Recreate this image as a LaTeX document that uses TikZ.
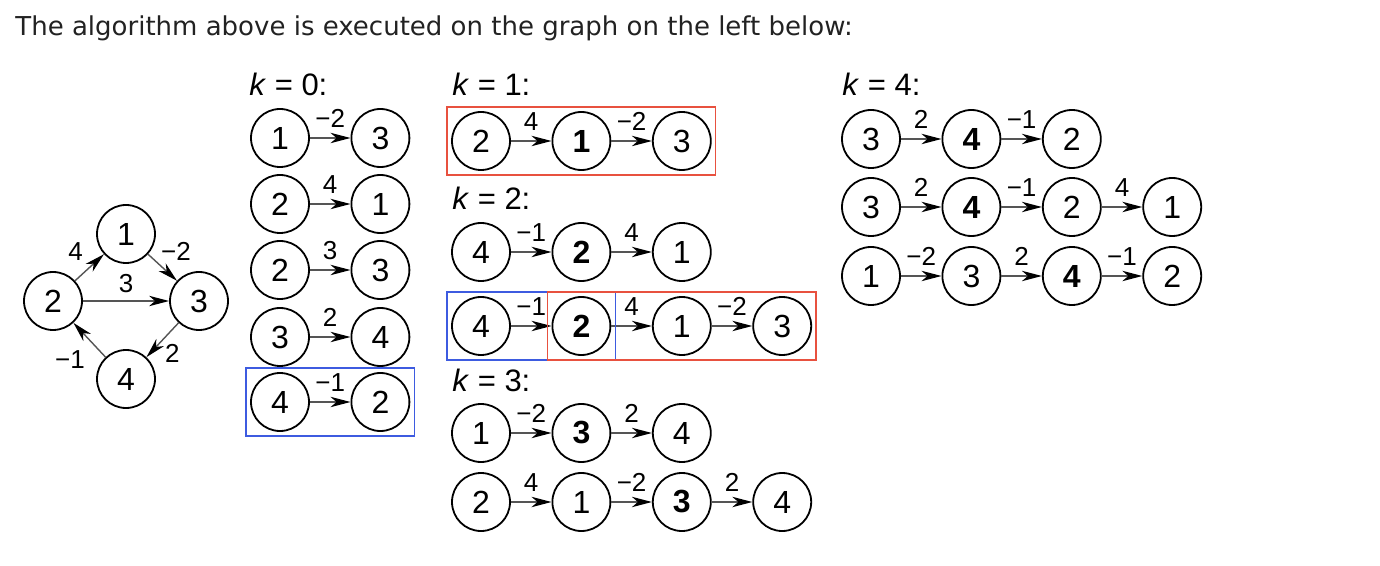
\documentclass[tikz,border=0pt]{standalone}
\usepackage{fontspec}
\setmainfont{Liberation Sans}
\newfontfamily\headfont{DejaVu Sans}
\usepackage{tikz}
\usetikzlibrary{arrows.meta,positioning,fit}
\definecolor{boxred}{HTML}{E8513F}
\definecolor{boxblue}{HTML}{3D5BE0}
\definecolor{edgegray}{HTML}{555555}
\definecolor{headgray}{HTML}{222222}

\begin{document}
\begin{tikzpicture}[x=0.5pt, y=-0.5pt,
    >={Stealth[length=10pt, width=5.2pt, inset=3pt, color=black]},
    vert/.style={draw, circle, line width=0.9pt, minimum size=29pt, inner sep=0pt,
        font=\fontsize{16pt}{18pt}\selectfont},
    piv/.style={vert, font=\fontsize{16pt}{18pt}\selectfont\bfseries},
    wt/.style={->, draw=edgegray, line width=0.7pt},
    elab/.style={text=black, inner sep=0pt, font=\fontsize{13pt}{15pt}\selectfont},
    wlab/.style={elab, above=5pt},
    klab/.style={anchor=base west, inner sep=0pt, font=\fontsize{15.5pt}{18pt}\selectfont},
    redbox/.style={draw=boxred, line width=0.75pt, inner sep=2pt},
    bluebox/.style={draw=boxblue, line width=0.75pt, inner sep=2pt},
    node distance=20.3pt]
    \useasboundingbox (0,0) rectangle (1380,566);

    % Caption
    \node[anchor=base west, inner sep=0pt, text=headgray, font=\headfont\fontsize{13pt}{15pt}\selectfont]
        (title) at (15,36) {The algorithm above is executed on the graph on the left below:};

    % Input graph
    \node[vert] (v1) at (126,234) {1};
    \node[vert] (v2) at (53,301) {2};
    \node[vert] (v3) at (199,301) {3};
    \node[vert] (v4) at (126,379) {4};
    \draw[wt] (v2) -- node[elab, above left=3pt and 3pt] {4} (v1);
    \draw[wt] (v1) -- node[elab, above right=3pt and -1pt] {−2} (v3);
    \draw[wt] (v2) -- node[elab, above=4pt] {3} (v3);
    \draw[wt] (v3) -- node[elab, below right=2pt and 1pt] {2} (v4);
    \draw[wt] (v4) -- node[elab, below left=5pt and 2pt] {−1} (v2);

    % k = 0
    \node[klab] (k0) at (249,96) {\textit{k} = 0:};
    \node[vert] (k0r1a) at (280,138) {1};
    \node[vert, right=of k0r1a] (k0r1b) {3};
    \draw[wt] (k0r1a) -- node[wlab] {−2} (k0r1b);
    \node[vert] (k0r2a) at (280,204) {2};
    \node[vert, right=of k0r2a] (k0r2b) {1};
    \draw[wt] (k0r2a) -- node[wlab] {4} (k0r2b);
    \node[vert] (k0r3a) at (280,270) {2};
    \node[vert, right=of k0r3a] (k0r3b) {3};
    \draw[wt] (k0r3a) -- node[wlab] {3} (k0r3b);
    \node[vert] (k0r4a) at (280,337) {3};
    \node[vert, right=of k0r4a] (k0r4b) {4};
    \draw[wt] (k0r4a) -- node[wlab] {2} (k0r4b);
    \node[vert] (k0r5a) at (280,402) {4};
    \node[vert, right=of k0r5a] (k0r5b) {2};
    \draw[wt] (k0r5a) -- node[wlab] {−1} (k0r5b);
    \node[bluebox, fit=(k0r5a)(k0r5b)] (k0blue) {};

    % k = 1
    \node[klab] (k1) at (452,96) {\textit{k} = 1:};
    \node[vert] (k1r1a) at (481,141) {2};
    \node[piv, right=of k1r1a] (k1r1b) {1};
    \node[vert, right=of k1r1b] (k1r1c) {3};
    \draw[wt] (k1r1a) -- node[wlab] {4} (k1r1b);
    \draw[wt] (k1r1b) -- node[wlab] {−2} (k1r1c);
    \node[redbox, fit=(k1r1a)(k1r1c)] (k1red) {};

    % k = 2
    \node[klab] (k2) at (452,210) {\textit{k} = 2:};
    \node[vert] (k2r1a) at (481,252) {4};
    \node[piv, right=of k2r1a] (k2r1b) {2};
    \node[vert, right=of k2r1b] (k2r1c) {1};
    \draw[wt] (k2r1a) -- node[wlab] {−1} (k2r1b);
    \draw[wt] (k2r1b) -- node[wlab] {4} (k2r1c);
    \node[vert] (k2r2a) at (481,326) {4};
    \node[piv, right=of k2r2a] (k2r2b) {2};
    \node[vert, right=of k2r2b] (k2r2c) {1};
    \node[vert, right=of k2r2c] (k2r2d) {3};
    \draw[wt] (k2r2a) -- node[wlab] {−1} (k2r2b);
    \draw[wt] (k2r2b) -- node[wlab] {4} (k2r2c);
    \draw[wt] (k2r2c) -- node[wlab] {−2} (k2r2d);
    \node[bluebox, fit=(k2r2a)(k2r2b)] (k2blue) {};
    \node[redbox, fit=(k2r2b)(k2r2d)] (k2red) {};

    % k = 3
    \node[klab] (k3) at (452,392) {\textit{k} = 3:};
    \node[vert] (k3r1a) at (481,433) {1};
    \node[piv, right=of k3r1a] (k3r1b) {3};
    \node[vert, right=of k3r1b] (k3r1c) {4};
    \draw[wt] (k3r1a) -- node[wlab] {−2} (k3r1b);
    \draw[wt] (k3r1b) -- node[wlab] {2} (k3r1c);
    \node[vert] (k3r2a) at (481,502) {2};
    \node[vert, right=of k3r2a] (k3r2b) {1};
    \node[piv, right=of k3r2b] (k3r2c) {3};
    \node[vert, right=of k3r2c] (k3r2d) {4};
    \draw[wt] (k3r2a) -- node[wlab] {4} (k3r2b);
    \draw[wt] (k3r2b) -- node[wlab] {−2} (k3r2c);
    \draw[wt] (k3r2c) -- node[wlab] {2} (k3r2d);

    % k = 4
    \node[klab] (k4) at (842,96) {\textit{k} = 4:};
    \node[vert] (k4r1a) at (871,139) {3};
    \node[piv, right=of k4r1a] (k4r1b) {4};
    \node[vert, right=of k4r1b] (k4r1c) {2};
    \draw[wt] (k4r1a) -- node[wlab] {2} (k4r1b);
    \draw[wt] (k4r1b) -- node[wlab] {−1} (k4r1c);
    \node[vert] (k4r2a) at (871,207) {3};
    \node[piv, right=of k4r2a] (k4r2b) {4};
    \node[vert, right=of k4r2b] (k4r2c) {2};
    \node[vert, right=of k4r2c] (k4r2d) {1};
    \draw[wt] (k4r2a) -- node[wlab] {2} (k4r2b);
    \draw[wt] (k4r2b) -- node[wlab] {−1} (k4r2c);
    \draw[wt] (k4r2c) -- node[wlab] {4} (k4r2d);
    \node[vert] (k4r3a) at (871,276) {1};
    \node[vert, right=of k4r3a] (k4r3b) {3};
    \node[piv, right=of k4r3b] (k4r3c) {4};
    \node[vert, right=of k4r3c] (k4r3d) {2};
    \draw[wt] (k4r3a) -- node[wlab] {−2} (k4r3b);
    \draw[wt] (k4r3b) -- node[wlab] {2} (k4r3c);
    \draw[wt] (k4r3c) -- node[wlab] {−1} (k4r3d);
\end{tikzpicture}
\end{document}
